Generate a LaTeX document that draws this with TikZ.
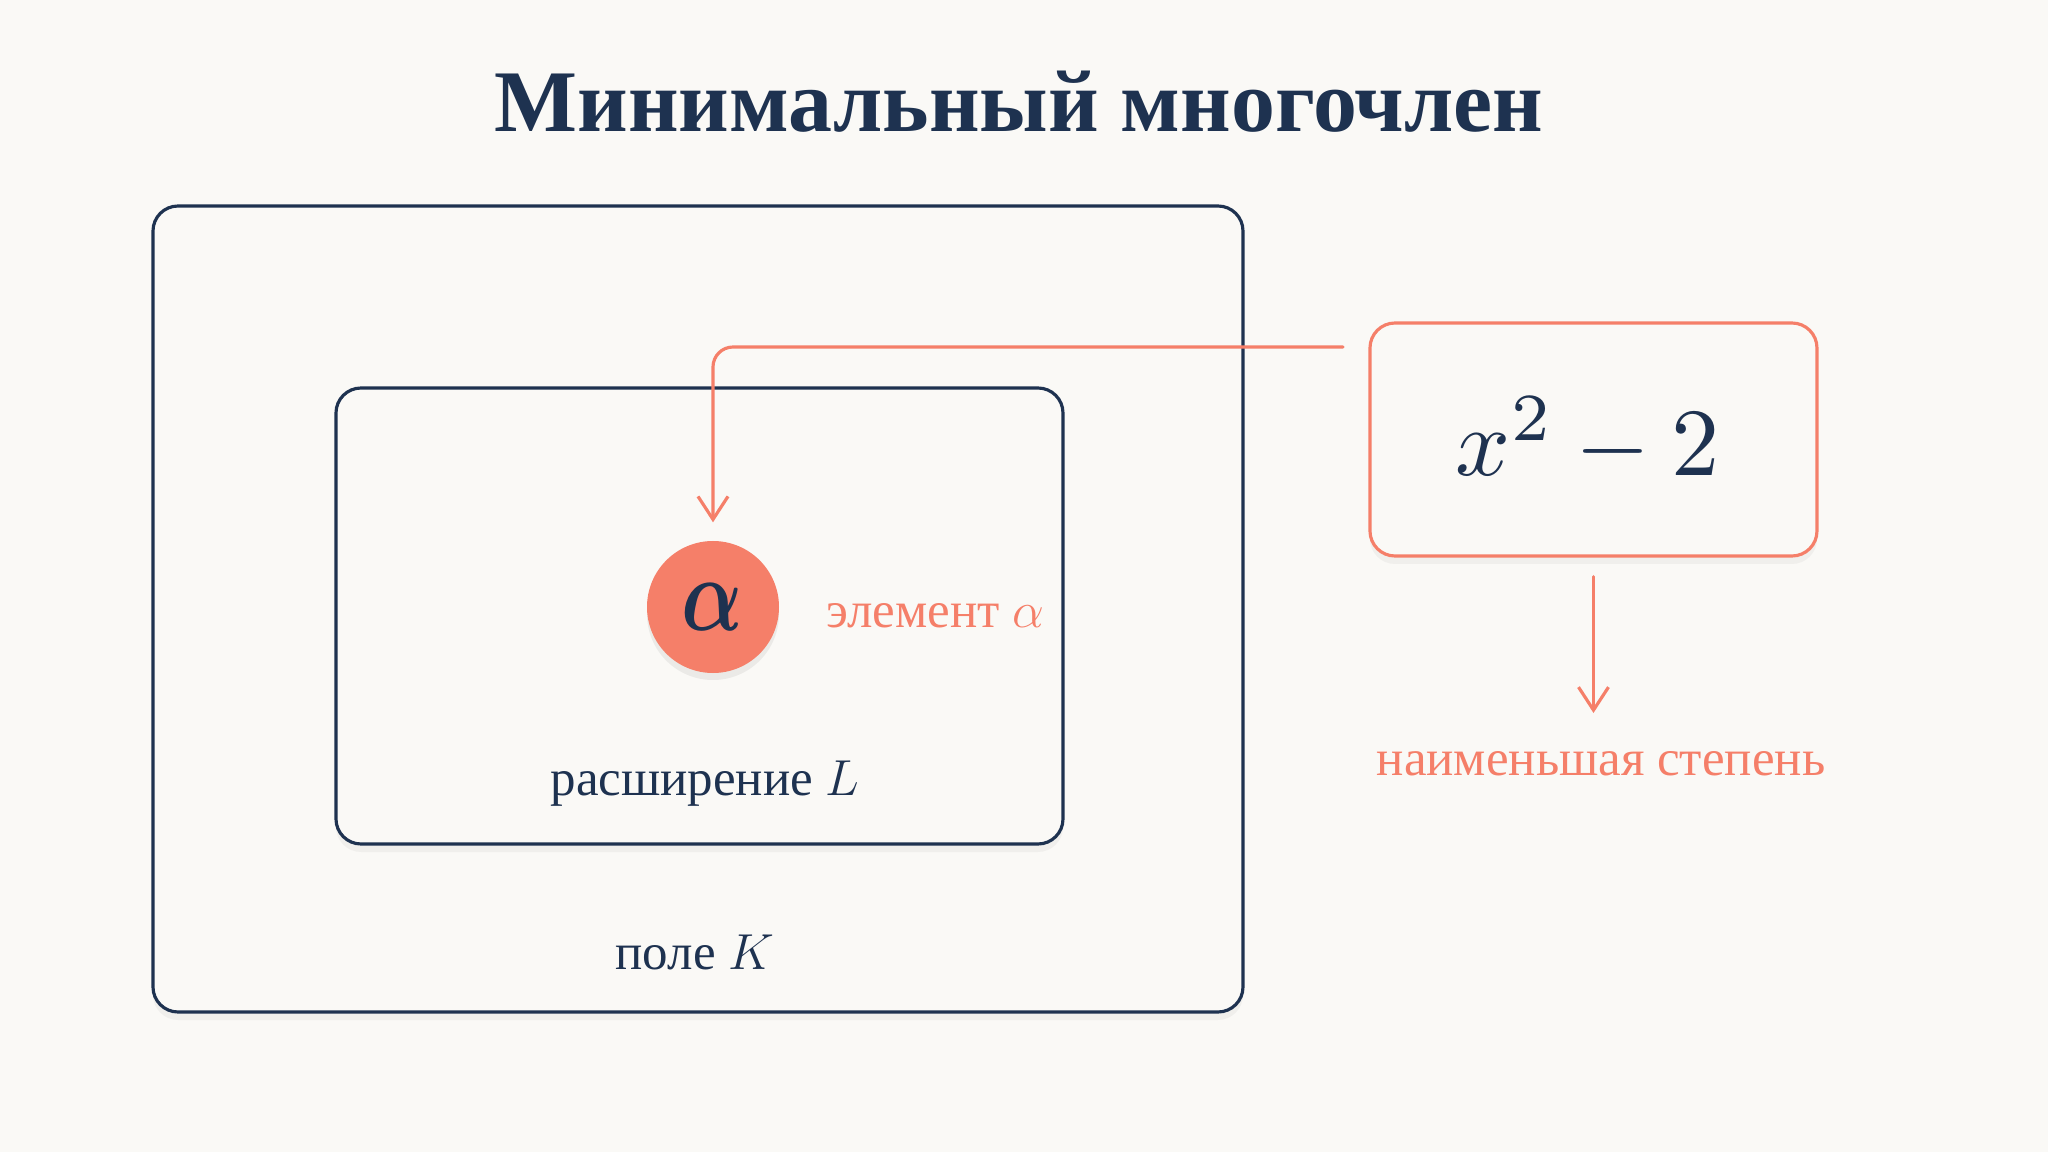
\documentclass[tikz,border=0pt]{standalone}
\usepackage{fontspec}
\setmainfont{Liberation Serif}
\usepackage{amsmath}
\usepackage{amssymb}
\usetikzlibrary{arrows.meta, shadows}

\definecolor{navy}{HTML}{1E3250}
\definecolor{coral}{HTML}{F57F69}
\definecolor{paper}{HTML}{FAF9F6}

\begin{document}
\begin{tikzpicture}[
            > = {Straight Barb[length=2.3mm, width=3mm]}, % open arrow head
            line cap = round,
            auto,
            every node/.style = {font=\fontsize{14.5}{17}\selectfont}
        ]

        \tikzstyle{box}=[
            draw = navy,
            line width = 0.9pt,
            rounded corners = 0.25cm,
            fill = paper,
            drop shadow = {opacity=0.08, shadow xshift=0cm, shadow yshift=-0.08cm}
        ]
        \tikzstyle{link}=[
            draw = coral,
            line width = 0.9pt
        ]
        \tikzstyle{bigmath}=[
            text = navy,
            font = \fontsize{10}{12}\selectfont
        ]

        % background
        \fill[paper] (0,0) rectangle (20.48,-11.52);
        \useasboundingbox (0,0) rectangle (20.48,-11.52);

        \node[text=navy, font=\bfseries\fontsize{25}{30}\selectfont] (title) at (10.19,-1.02) {Минимальный многочлен};

        \node[box, minimum width=10.9cm, minimum height=8.06cm] (K) at (6.98,-6.09) {};
        \node[box, minimum width=7.27cm, minimum height=4.56cm] (L) at (6.995,-6.16) {};

        \node[box, draw=coral, minimum width=4.47cm, minimum height=2.33cm, drop shadow={opacity=0}] (p) at (15.935,-4.395) {};
        \node[bigmath] (pol) at (15.88,-4.40) {\scalebox{2.74}{$x^2-2$}};

        \node[circle, fill=coral, minimum size=1.32cm, inner sep=0pt,
              drop shadow={opacity=0.12, shadow xshift=0cm, shadow yshift=-0.07cm}] (a) at (7.13,-6.07) {};
        \node[bigmath] (alpha) at (7.12,-6.07) {\scalebox{2.3}[3.0]{$\boldsymbol{\alpha}$}};

        \node[text=coral, anchor=west] (elem) at (8.14,-6.16) {элемент $\alpha$};
        \node[text=navy] (Llab) at (7.05,-7.84) {расширение $L$};
        \node[text=navy] (Klab) at (6.95,-9.52) {поле $K$};
        \node[text=coral] (deg) at (16.01,-7.64) {наименьшая степень};

        \coordinate (pin) at (13.43,-3.47);

        \draw[link, ->, rounded corners=0.2cm, shorten >= 0.18cm] (pin) -| (a.north);
        \draw[link, ->] ([yshift=-0.19cm]p.south) -- (p.south |- 0,-7.13);
    \end{tikzpicture}
\end{document}
